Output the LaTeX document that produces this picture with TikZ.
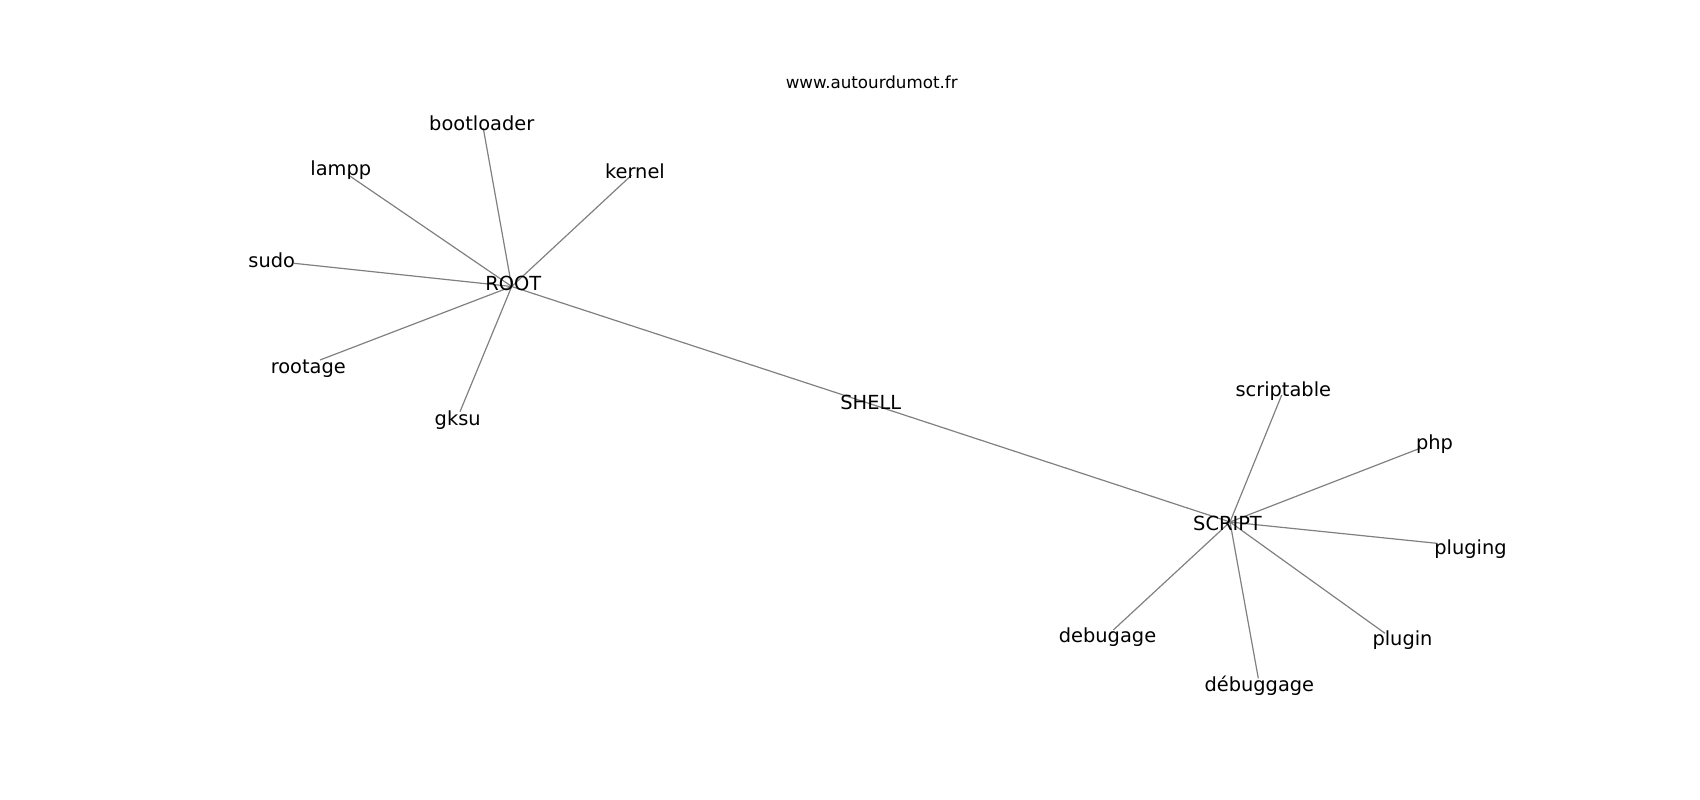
\documentclass[tikz,border=0pt]{standalone}
\usepackage{fontspec}
\setmainfont{DejaVu Sans}

\tikzset{
  lbl/.style={anchor=base, inner sep=0pt, font=\fontsize{19.4}{23}\selectfont},
  edge/.style={draw=black!50, line width=1.2pt},
}

\begin{document}
\begin{tikzpicture}[x=1pt, y=-1pt]
        \useasboundingbox (0,0) rectangle (1700,800);

        % Title
        \node[lbl, font=\fontsize{16.7}{20}\selectfont] (title) at (871.7,88.7) {www.autourdumot.fr};

        % Hubs
        \coordinate (root) at (511.7,286.5);
        \coordinate (shell) at (870.8,404);
        \coordinate (script) at (1230,522);
        \draw[edge] (root) -- (shell) -- (script);

        % Leaves: hub/name/word/point/label base
        \foreach \hub/\n/\w/\px/\py/\lx/\ly in {
            root/boot/bootloader/483.3/128.3/481.7/130.7,
            root/lampp/lampp/348.3/175/340.8/175,
            root/sudo/sudo/294/263.3/271.7/267.3,
            root/rootage/rootage/320/360/308.3/373,
            root/kernel/kernel/631.7/175/635/178.3,
            root/gksu/gksu/460/411.7/457.7/425,
            script/scriptable/scriptable/1281.7/395/1283.3/396.2,
            script/php/php/1420/448.3/1434.5/449.5,
            script/pluging/pluging/1436.7/543.3/1470.5/554,
            script/plugin/plugin/1385/633.3/1402.5/645,
            script/debuggage/débuggage/1258.3/678.3/1259.3/691.5,
            script/debugage/debugage/1113.3/630/1107.5/642.7} {
            \coordinate (\n) at (\px,\py);
            \draw[edge] (\hub) -- (\n);
            \node[lbl] (\n-t) at (\lx,\ly) {\w};
        }

        % Hub labels
        \node[lbl] (root-t) at (513.3,290.7) {ROOT};
        \node[lbl] (shell-t) at (870.8,409) {SHELL};
        \node[lbl] (script-t) at (1227.5,530) {SCRIPT};
    \end{tikzpicture}
\end{document}
